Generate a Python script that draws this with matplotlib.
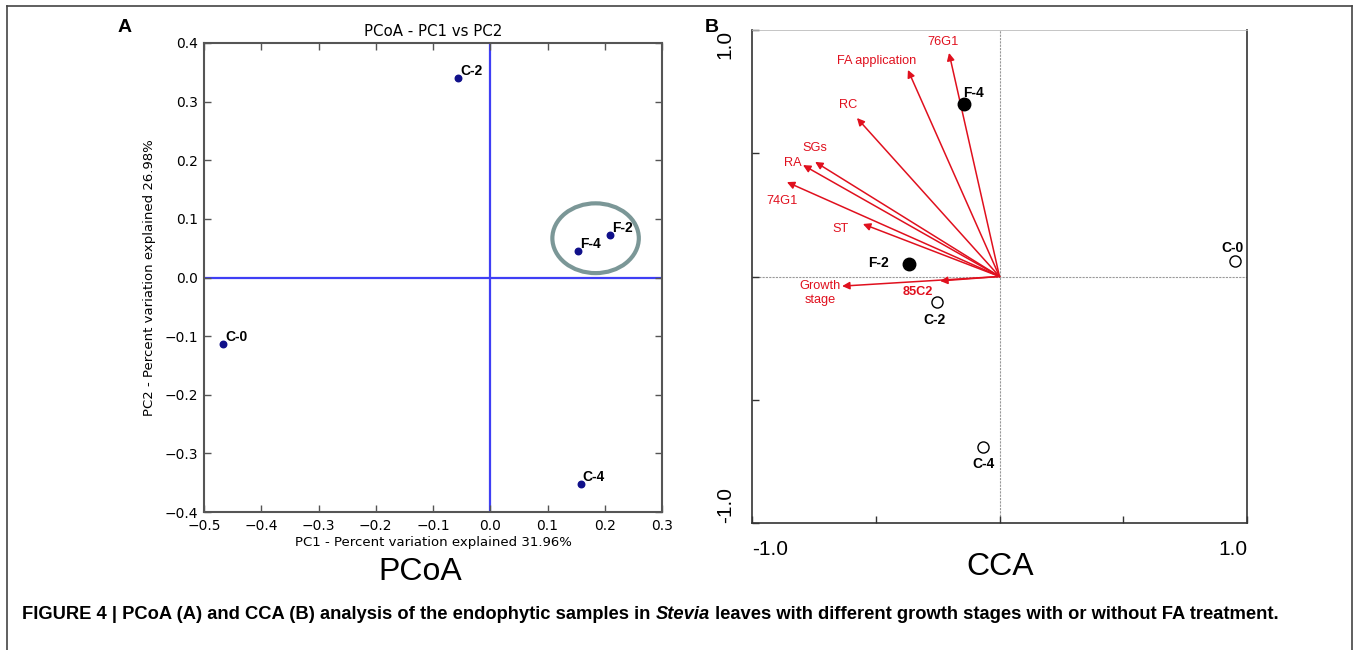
import matplotlib
matplotlib.use("Agg")
import matplotlib.pyplot as plt
from matplotlib.patches import Ellipse
from matplotlib.lines import Line2D

W, H = 1357, 650

# ---------------- Data: PCoA ----------------
pcoa_labels = ["C-2", "C-0", "F-4", "F-2", "C-4"]
pcoa_pc1 = [-0.056, -0.467, 0.153, 0.209, 0.158]
pcoa_pc2 = [0.341, -0.113, 0.046, 0.072, -0.352]
pcoa_xticks = [-0.5, -0.4, -0.3, -0.2, -0.1, 0.0, 0.1, 0.2, 0.3]
pcoa_yticks = [-0.4, -0.3, -0.2, -0.1, 0.0, 0.1, 0.2, 0.3, 0.4]

# ---------------- Data: CCA ----------------
env_names = ["76G1", "FA application", "RC", "SGs", "RA", "74G1", "ST", "Growth\nstage", "85C2"]
env_x = [-0.204, -0.370, -0.576, -0.745, -0.794, -0.859, -0.552, -0.636, -0.240]
env_y = [0.907, 0.838, 0.643, 0.465, 0.452, 0.383, 0.213, -0.039, -0.018]
env_lab_x = [-0.228, -0.495, -0.612, -0.745, -0.834, -0.879, -0.644, -0.725, -0.329]
env_lab_y = [0.951, 0.874, 0.696, 0.521, 0.460, 0.306, 0.193, -0.067, -0.063]

cca_samples = ["F-4", "F-2", "C-2", "C-4", "C-0"]
cca_x = [-0.143, -0.366, -0.253, -0.067, 0.952]
cca_y = [0.700, 0.051, -0.103, -0.692, 0.063]
cca_filled = [True, True, False, False, False]
cca_lab_x = [-0.107, -0.491, -0.261, -0.063, 0.943]
cca_lab_y = [0.744, 0.055, -0.176, -0.761, 0.116]

fig = plt.figure(figsize=(W / 100, H / 100), dpi=100)
fig.patch.set_facecolor("white")


def px_axes(l, t, r, b):
    return fig.add_axes([l / W, 1 - b / H, (r - l) / W, (b - t) / H])


# ---------------- Panel A ----------------
axA = px_axes(204, 43, 662, 512)
axA.set_xlim(-0.5, 0.3)
axA.set_ylim(-0.4, 0.4)
axA.axvline(0, color="#3f3ff5", lw=1.6, zorder=1)
axA.axhline(0, color="#3f3ff5", lw=1.6, zorder=1)
axA.scatter(pcoa_pc1, pcoa_pc2, s=22, color="#10108a", zorder=3)
for lab, x, y in zip(pcoa_labels, pcoa_pc1, pcoa_pc2):
    axA.annotate(lab, (x, y), xytext=(2, 7), textcoords="offset pixels",
                 ha="left", va="center", fontsize=10, fontweight="bold",
                 family="Liberation Sans")
axA.add_patch(Ellipse((0.184, 0.067), 0.151, 0.119, fill=False,
                      edgecolor="#7b9797", lw=3, zorder=2))
axA.set_xticks(pcoa_xticks)
axA.set_yticks(pcoa_yticks)
axA.set_xticklabels([f"{v:.1f}".replace("-", "\u2212") for v in pcoa_xticks])
axA.set_yticklabels([f"{v:.1f}".replace("-", "\u2212") for v in pcoa_yticks])
axA.tick_params(direction="in", top=True, right=True, length=5, width=1,
                color="#555555", labelsize=10)
axA.tick_params(axis="x", pad=5)
axA.tick_params(axis="y", pad=4)
for sp in axA.spines.values():
    sp.set_color("#555555")
    sp.set_linewidth(1.5)
axA.set_title("PCoA - PC1 vs PC2", fontsize=10.8, pad=5)
axA.set_xlabel("PC1 - Percent variation explained 31.96%", fontsize=9.5, labelpad=2)
axA.set_ylabel("PC2 - Percent variation explained 26.98%", fontsize=9.5, labelpad=6)

# ---------------- Panel B ----------------
axB = px_axes(752, 30, 1247, 523)
axB.set_xlim(-1.0, 1.0)
axB.set_ylim(-1.0, 1.0)
axB.axvline(0, color="#999999", lw=0.8, ls=(0, (2, 1)), zorder=1)
axB.axhline(0, color="#999999", lw=0.8, ls=(0, (2, 1)), zorder=1)
red = "#e0101e"
for nm, x, y, lx, ly in zip(env_names, env_x, env_y, env_lab_x, env_lab_y):
    axB.annotate("", xy=(x, y), xytext=(0, 0),
                 arrowprops=dict(arrowstyle="-|>", color=red, lw=1.1,
                                 mutation_scale=11, shrinkA=0, shrinkB=0))
    axB.text(lx, ly, nm, color=red, fontsize=9.2, ha="center", va="center",
             family="Liberation Sans",
             fontweight="bold" if nm == "85C2" else "normal",
             linespacing=1.25)
for nm, x, y, f, lx, ly in zip(cca_samples, cca_x, cca_y, cca_filled, cca_lab_x, cca_lab_y):
    axB.plot([x], [y], marker="o", ms=9 if f else 8,
             mfc="black" if f else "white", mec="black", mew=1, zorder=4)
    axB.text(lx, ly, nm, fontsize=10, fontweight="bold", ha="center",
             va="center", family="Liberation Sans")
axB.set_xticks([-1.0, -0.5, 0.0, 0.5, 1.0])
axB.set_yticks([-1.0, -0.5, 0.0, 0.5, 1.0])
axB.set_xticklabels([])
axB.set_yticklabels([])
axB.tick_params(direction="in", length=5, width=1, color="#333333")
for sp in axB.spines.values():
    sp.set_color("#333333")
    sp.set_linewidth(1.2)
axB.spines["top"].set_color("#bbbbbb")
axB.spines["top"].set_linewidth(0.6)
fs_b = 15
axB.text(0.0, -0.035, "-1.0", transform=axB.transAxes, ha="left", va="top",
         fontsize=fs_b, family="Liberation Sans")
axB.text(1.0, -0.035, "1.0", transform=axB.transAxes, ha="right", va="top",
         fontsize=fs_b, family="Liberation Sans")
axB.text(-0.035, 1.0, "1.0", transform=axB.transAxes, ha="right", va="top",
         fontsize=fs_b, rotation=90, family="Liberation Sans")
axB.text(-0.035, 0.0, "-1.0", transform=axB.transAxes, ha="right", va="bottom",
         fontsize=fs_b, rotation=90, family="Liberation Sans")

# ---------------- Figure texts ----------------
fig.text(125 / W, 1 - 28 / H, "A", fontsize=14, fontweight="bold",
         ha="center", va="center", family="Liberation Sans")
fig.text(712 / W, 1 - 28 / H, "B", fontsize=14, fontweight="bold",
         ha="center", va="center", family="Liberation Sans")
fig.text(420 / W, 1 - 572 / H, "PCoA", fontsize=23, ha="center", va="center",
         family="Liberation Sans")
fig.text(1000 / W, 1 - 567 / H, "CCA", fontsize=23, ha="center", va="center",
         family="Liberation Sans")

# caption with mixed styles
parts = [("FIGURE 4 | PCoA (A) and CCA (B) analysis of the endophytic samples in ", "normal"),
         ("Stevia", "italic"),
         (" leaves with different growth stages with or without FA treatment.", "normal")]
fig.canvas.draw()
renderer = fig.canvas.get_renderer()
xpos = 22
for txt, style in parts:
    t = fig.text(xpos / W, 1 - 619 / H, txt, fontsize=13.2, fontweight="bold",
                 fontstyle=style, ha="left", va="baseline", family="Liberation Sans")
    bb = t.get_window_extent(renderer)
    xpos += bb.width

# border
for xs, ys in [([7, 7], [650, 6]), ([7, 1352], [6, 6]), ([1352, 1352], [6, 650])]:
    fig.add_artist(Line2D([x / W for x in xs], [1 - y / H for y in ys],
                          color="#444444", lw=1.2))

fig.savefig("out.png", dpi=100)
